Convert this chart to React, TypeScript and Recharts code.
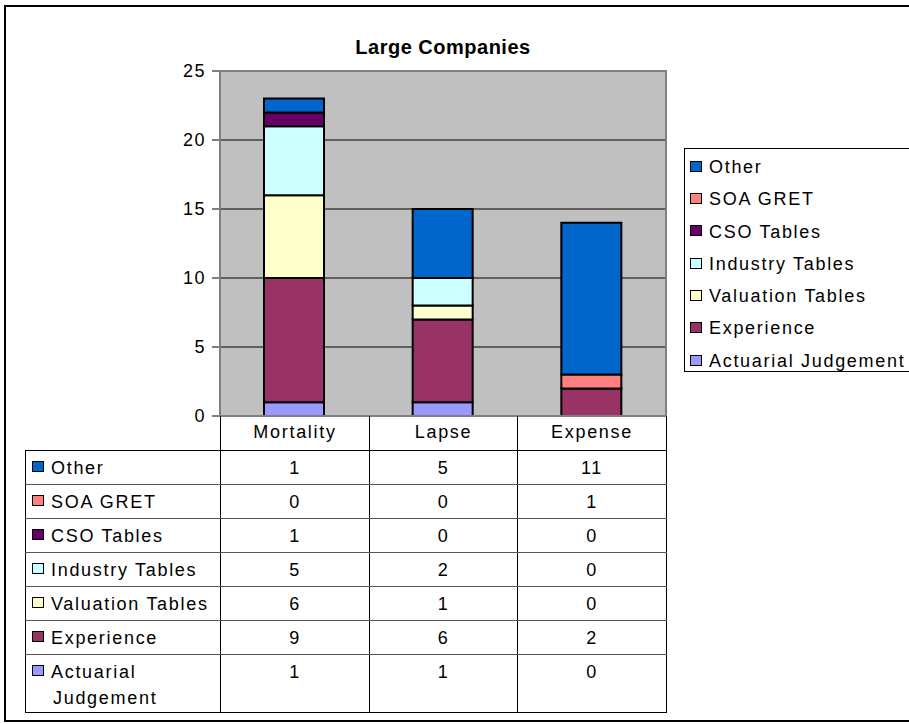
import { BarChart, Bar, XAxis, YAxis, CartesianGrid } from 'recharts';

const categories = ['Mortality', 'Lapse', 'Expense'];
const yTicks = [0, 5, 10, 15, 20, 25];

// stacking order, bottom to top
const seriesNames = [
  'Actuarial Judgement',
  'Experience',
  'Valuation Tables',
  'Industry Tables',
  'CSO Tables',
  'SOA GRET',
  'Other',
];
const actuarial = [1, 1, 0];
const experience = [9, 6, 2];
const valuation = [6, 1, 0];
const industry = [5, 2, 0];
const cso = [1, 0, 0];
const soaGret = [0, 0, 1];
const other = [1, 5, 11];
const seriesValues = [actuarial, experience, valuation, industry, cso, soaGret, other];
const seriesColors = ['#9999FF', '#993366', '#FFFFCC', '#CCFFFF', '#660066', '#FF8080', '#0066CC'];

const series = seriesNames.map((name, i) => ({
  key: 's' + i,
  name,
  values: seriesValues[i],
  color: seriesColors[i],
}));

const data = categories.map((cat, ci) => {
  const row: Record<string, string | number> = { cat };
  series.forEach((s) => {
    row[s.key] = s.values[ci];
  });
  return row;
});

// legend and table list the series top-down
const listed = [...series].reverse();

const FONT = '"Liberation Sans", Arial, sans-serif';
const textStyle = { fontSize: 18, letterSpacing: 1.7, fontFamily: FONT, color: '#000' };

function Swatch({ color }: { color: string }) {
  return (
    <span
      style={{
        display: 'inline-block',
        width: 10,
        height: 9,
        background: color,
        border: '1.5px solid #000',
        marginRight: 7,
        verticalAlign: 'middle',
        position: 'relative',
        top: -2,
      }}
    />
  );
}

function DataTable() {
  const rowLine = '1px solid #555';
  return (
    <table
      style={{
        position: 'absolute',
        left: 25,
        top: 416,
        width: 642,
        borderCollapse: 'collapse',
        tableLayout: 'fixed',
        ...textStyle,
      }}
    >
      <colgroup>
        <col style={{ width: 195 }} />
        <col style={{ width: 149 }} />
        <col style={{ width: 148 }} />
        <col style={{ width: 149 }} />
      </colgroup>
      <tbody>
        <tr style={{ height: 34 }}>
          <td style={{ padding: 0, borderBottom: '1px solid #000' }} />
          {categories.map((c) => (
            <td
              key={c}
              style={{
                textAlign: 'center',
                borderLeft: '1px solid #000',
                borderRight: '1px solid #000',
                borderBottom: '1px solid #000',
                padding: 0,
              }}
            >
              {c}
            </td>
          ))}
        </tr>
        {listed.map((s, ri) => {
          const last = ri === listed.length - 1;
          const bottom = last ? '1px solid #000' : rowLine;
          return (
            <tr key={s.key} style={{ height: last ? 57 : 34 }}>
              <td
                style={{
                  borderLeft: '1px solid #000',
                  borderRight: '1px solid #000',
                  borderBottom: bottom,
                  padding: '4px 0 1px 27px',
                  textIndent: -21,
                  verticalAlign: 'top',
                  lineHeight: '26px',
                }}
              >
                <Swatch color={s.color} />
                {s.name}
              </td>
              {s.values.map((v, ci) => (
                <td
                  key={ci}
                  style={{
                    textAlign: 'center',
                    verticalAlign: 'top',
                    borderLeft: '1px solid #000',
                    borderRight: '1px solid #000',
                    borderBottom: bottom,
                    padding: '4px 0 1px 0',
                    lineHeight: '26px',
                  }}
                >
                  {v}
                </td>
              ))}
            </tr>
          );
        })}
      </tbody>
    </table>
  );
}

function LegendBox() {
  return (
    <div
      style={{
        position: 'absolute',
        left: 684,
        top: 148,
        width: 236,
        height: 224,
        border: '1px solid #000',
        boxSizing: 'border-box',
        padding: '2px 0 0 5px',
        ...textStyle,
      }}
    >
      {listed.map((s) => (
        <div key={s.key} style={{ height: 32.3, lineHeight: '32px', whiteSpace: 'nowrap' }}>
          <Swatch color={s.color} />
          {s.name}
        </div>
      ))}
    </div>
  );
}

export default function App() {
  return (
    <div
      style={{
        position: 'absolute',
        left: 0,
        top: 0,
        width: 909,
        height: 724,
        overflow: 'hidden',
        background: '#fff',
        fontFamily: FONT,
      }}
    >
      <div
        style={{
          position: 'absolute',
          left: 4,
          top: 5,
          width: 930,
          height: 717,
          border: '2px solid #000',
          boxSizing: 'border-box',
        }}
      />
      <div
        style={{
          position: 'absolute',
          left: 220,
          top: 35,
          width: 446,
          textAlign: 'center',
          fontSize: 20,
          fontWeight: 'bold',
          lineHeight: '24px',
          letterSpacing: 0.5,
        }}
      >
        Large Companies
      </div>
      <div style={{ position: 'absolute', left: 0, top: 0 }}>
        <BarChart
          width={909}
          height={724}
          data={data}
          margin={{ top: 71, right: 243, bottom: 308, left: 160 }}
          barSize={60}
        >
          <CartesianGrid vertical={false} stroke="#000" fill="#C0C0C0" fillOpacity={1} />
          <XAxis dataKey="cat" hide />
          <YAxis
            width={60}
            domain={[0, 25]}
            ticks={yTicks}
            interval={0}
            tickSize={8}
            tickMargin={6}
            axisLine={{ stroke: '#808080', strokeWidth: 2 }}
            tickLine={{ stroke: '#000' }}
            tick={{ fill: '#000', fontSize: 18, letterSpacing: 1.5, fontFamily: FONT }}
          />
          {series.map((s) => (
            <Bar
              key={s.key}
              dataKey={s.key}
              name={s.name}
              stackId="a"
              fill={s.color}
              stroke="#000"
              strokeWidth={2}
              isAnimationActive={false}
            />
          ))}
        </BarChart>
      </div>
      <div
        style={{
          position: 'absolute',
          left: 219,
          top: 70,
          width: 448,
          height: 347,
          border: '2px solid #808080',
          boxSizing: 'border-box',
          pointerEvents: 'none',
        }}
      />
      <DataTable />
      <LegendBox />
    </div>
  );
}
